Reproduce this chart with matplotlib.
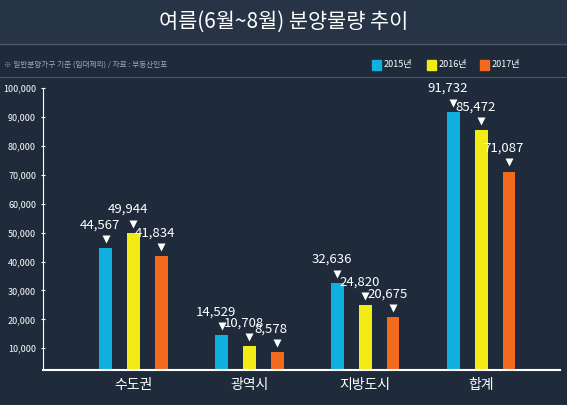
import matplotlib
matplotlib.use("Agg")
import matplotlib.pyplot as plt
import numpy as np

plt.rcParams['font.family'] = ['Noto Sans CJK KR', 'DejaVu Sans']

categories = ['수도권', '광역시', '지방도시', '합계']
years = ['2015년', '2016년', '2017년']
v2015 = [44567, 14529, 32636, 91732]
v2016 = [49944, 10708, 24820, 85472]
v2017 = [41834, 8578, 20675, 71087]
yticks = [10000, 20000, 30000, 40000, 50000, 60000, 70000, 80000, 90000, 100000]
colors = ['#0fb0e0', '#f2ec16', '#f26a1e']
bg = '#1f2b3b'

W, H = 567, 405
fig = plt.figure(figsize=(W/100, H/100), dpi=100, facecolor=bg)
fig.add_artist(plt.Rectangle((0, 1-44/H), 1, 44/H, transform=fig.transFigure, color='#263445', zorder=0))
fig.add_artist(plt.Line2D([0, 1], [1-44/H]*2, transform=fig.transFigure, color='#4a5566', lw=1))
fig.add_artist(plt.Line2D([0, 1], [1-77/H]*2, transform=fig.transFigure, color='#4a5566', lw=0.8))
fig.text(0.5, 1-22/H, '여름(6월~8월) 분양물량 추이', color='white', fontsize=15, ha='center', va='center')
fig.text(4/W, 1-65/H, '※ 일반분양가구 기준 (임대제외) / 자료 : 부동산인포', color='#a0a8b4', fontsize=5.5, va='center')

# legend
lx = [372, 427, 480]
for x, c, y in zip(lx, colors, years):
    fig.add_artist(plt.Rectangle((x/W, 1-70/H), 9/W, 10/H, transform=fig.transFigure, color=c))
    fig.text((x+12)/W, 1-65/H, y, color='white', fontsize=6.5, va='center')

ax = fig.add_axes([43/W, (H-370)/H, 517/W, (370-88)/H])
ax.set_facecolor(bg)
x = np.arange(len(categories))
w = 0.11
gap = 0.24
for i, (vals, c) in enumerate(zip([v2015, v2016, v2017], colors)):
    xs = x + (i-1)*gap
    ax.bar(xs, vals, w, color=c, zorder=2)
    for xi, v in zip(xs, vals):
        ax.plot(xi, v + 3200, marker='v', color='white', ms=6, mec='none')
        ax.text(xi - 0.05, v + 5800, f'{v:,}', color='white', fontsize=9.5, ha='center', va='bottom')
ax.set_ylim(2500, 100000)
ax.set_xlim(-0.78, 3.68)
ax.set_yticks(yticks)
ax.set_yticklabels([f'{t:,}' for t in yticks], color='white', fontsize=6.5)
ax.set_xticks(x)
ax.set_xticklabels(categories, color='white', fontsize=10)
ax.tick_params(axis='x', length=0, pad=6)
ax.tick_params(axis='y', color='white', length=3, direction='inout')
for s in ['top', 'right']:
    ax.spines[s].set_visible(False)
ax.spines['left'].set_color('white')
ax.spines['bottom'].set_color('white')
ax.spines['bottom'].set_linewidth(1.5)
fig.savefig('out.png', dpi=100, facecolor=bg)
